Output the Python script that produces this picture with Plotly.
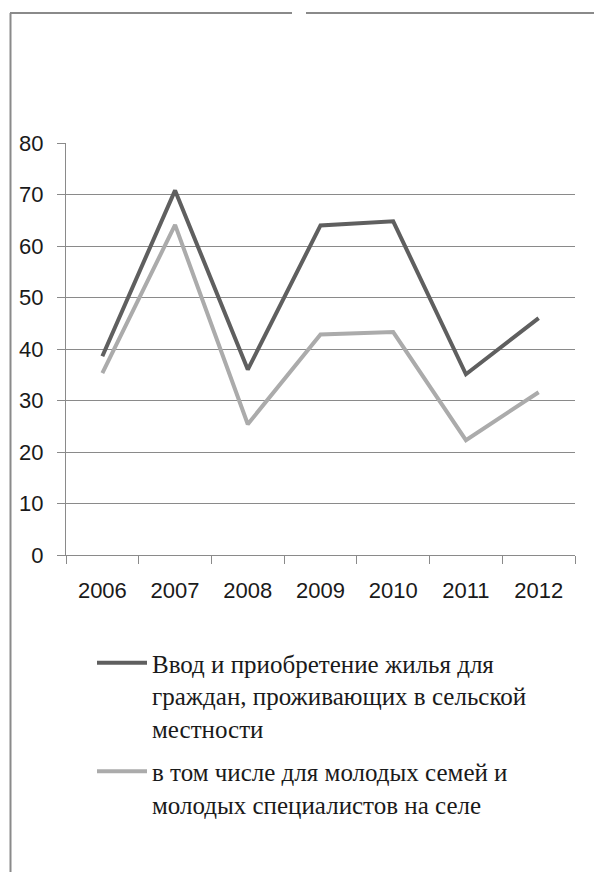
import plotly.graph_objects as go

years = ["2006", "2007", "2008", "2009", "2010", "2011", "2012"]
housing_total = [38.6, 70.8, 36.0, 64.0, 64.8, 35.1, 46.0]
housing_young = [35.3, 64.1, 25.4, 42.8, 43.3, 22.3, 31.6]
series_names = [
    "Ввод и приобретение жилья для<br>граждан, проживающих в сельской<br>местности",
    "в том числе для молодых семей и<br>молодых специалистов на селе",
]
y_ticks = [0, 10, 20, 30, 40, 50, 60, 70, 80]

W, H = 594, 872
L, R, T, B = 66, 19, 143, 317
pw = W - L - R
ph = H - T - B

def px(x):
    return (x - L) / pw

def py(y):
    return (H - B - y) / ph

fig = go.Figure()
fig.add_trace(go.Scatter(x=years, y=housing_total, mode="lines", name=series_names[0],
                         legendgroup="a", line=dict(color="#5f5f5f", width=4)))
fig.add_trace(go.Scatter(x=years, y=housing_young, mode="lines", name=series_names[1],
                         legendgroup="b", line=dict(color="#ababab", width=4)))

frame = "#8a8a8a"
shapes = [
    dict(type="line", xref="paper", yref="paper", x0=px(10.5), x1=px(10.5), y0=py(13), y1=py(H + 2),
         line=dict(color=frame, width=2)),
    dict(type="line", xref="paper", yref="paper", x0=px(10), x1=px(292), y0=py(13), y1=py(13),
         line=dict(color=frame, width=2)),
    dict(type="line", xref="paper", yref="paper", x0=px(306), x1=px(W + 2), y0=py(13), y1=py(13),
         line=dict(color=frame, width=2)),
]

fig.update_layout(
    width=W, height=H,
    margin=dict(l=L, r=R, t=T, b=B),
    paper_bgcolor="white", plot_bgcolor="white",
    showlegend=True,
    legend=dict(
        x=px(92), y=py(640), xanchor="left", yanchor="top",
        font=dict(family="Liberation Serif, serif", size=25, color="#1a1a1a"),
        itemwidth=50, valign="top", tracegroupgap=8,
        bgcolor="rgba(0,0,0,0)",
    ),
    shapes=shapes,
    font=dict(family="Liberation Sans, sans-serif", color="#1a1a1a"),
)
fig.update_xaxes(
    type="category", range=[-0.5, 6.5], tickson="boundaries", ticks="outside", ticklen=8,
    tickcolor="#8a8a8a", showline=True, linecolor="#8a8a8a", linewidth=1, showgrid=False,
    tickfont=dict(size=22), zeroline=False, ticklabelstandoff=16,
)
fig.update_yaxes(
    range=[0, 80], tickvals=y_ticks, ticks="outside", ticklen=8, tickcolor="#8a8a8a",
    showline=True, linecolor="#8a8a8a", linewidth=1,
    showgrid=True, gridcolor="#8a8a8a", gridwidth=1, zeroline=False,
    tickfont=dict(size=22), ticklabelstandoff=9,
)

fig.write_html("out.html", config={"displayModeBar": False},
               post_script="document.body.style.margin='0';")
